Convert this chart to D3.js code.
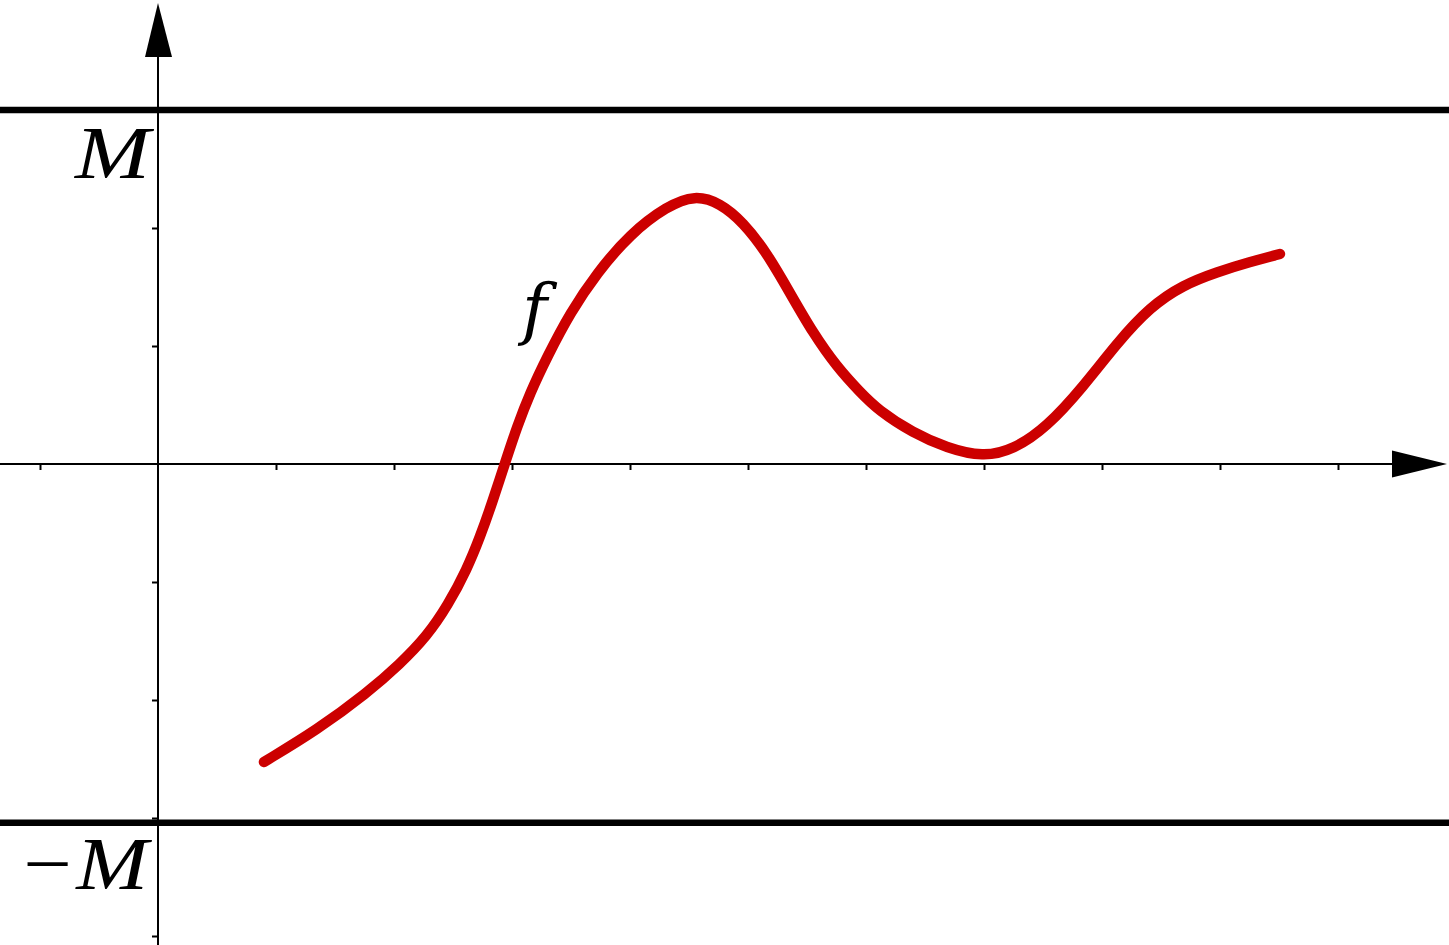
<!DOCTYPE html>
<html>
<head>
<meta charset="utf-8">
<script src="https://cdn.jsdelivr.net/npm/d3@7"></script>
<style>
  html, body { margin: 0; padding: 0; background: #fff; }
  svg { display: block; }
</style>
</head>
<body>
<svg id="chart" width="1449" height="945"></svg>
<script>
// ---- data ----
const fx = [0.898, 1.347, 1.771, 2.051, 2.280, 2.458, 2.619, 2.729, 2.831, 2.941, 3.042, 3.153, 3.297, 3.492, 3.720, 4.000, 4.314, 4.551, 4.763, 4.958, 5.161, 5.356, 5.551, 5.754, 5.949, 6.102, 6.398, 6.686, 6.992, 7.246, 7.534, 7.839, 8.127, 8.407, 8.686, 8.975, 9.254, 9.508];
const fy = [-2.525, -2.254, -1.941, -1.695, -1.458, -1.195, -0.890, -0.619, -0.331, 0.008, 0.314, 0.602, 0.907, 1.280, 1.619, 1.949, 2.186, 2.280, 2.212, 2.050, 1.788, 1.449, 1.110, 0.822, 0.610, 0.458, 0.263, 0.136, 0.059, 0.119, 0.314, 0.653, 1.025, 1.331, 1.517, 1.627, 1.712, 1.780];
const xTicks = [-1, 1, 2, 3, 4, 5, 6, 7, 8, 9, 10];
const yTicks = [-4, -3, -2, -1, 1, 2];
const boundUpper = 3.0;
const boundLower = -3.04;
const labelUpper = "M";
const labelLower = "\u2212M";
const curveLabel = "f";

// ---- layout ----
const W = 1449, H = 945;
const svg = d3.select("#chart");
const x = d3.scaleLinear().domain([0, 1]).range([158, 276]);
const y = d3.scaleLinear().domain([0, 1]).range([464, 346]);

// bound lines
svg.selectAll("line.bound").data([boundUpper, boundLower]).join("line")
  .attr("class", "bound")
  .attr("x1", 0).attr("x2", W)
  .attr("y1", d => y(d)).attr("y2", d => y(d))
  .attr("stroke", "#000").attr("stroke-width", 6.5);

// x axis ticks
const xAxis = d3.axisBottom(x).tickValues(xTicks).tickSize(6).tickFormat("");
const gx = svg.append("g").attr("transform", `translate(0,${y(0)})`).call(xAxis);
gx.select(".domain").remove();
gx.selectAll(".tick line").attr("stroke", "#000").attr("stroke-width", 2);

// y axis ticks
const yAxis = d3.axisLeft(y).tickValues(yTicks).tickSize(6).tickFormat("");
const gy = svg.append("g").attr("transform", `translate(${x(0)},0)`).call(yAxis);
gy.select(".domain").remove();
gy.selectAll(".tick line").attr("stroke", "#000").attr("stroke-width", 2);

// axis lines
svg.append("line").attr("x1", 0).attr("x2", 1393).attr("y1", y(0)).attr("y2", y(0))
  .attr("stroke", "#000").attr("stroke-width", 2);
svg.append("line").attr("x1", x(0)).attr("x2", x(0)).attr("y1", H).attr("y2", 56)
  .attr("stroke", "#000").attr("stroke-width", 2);

// arrowheads
const xa = x(0), ya = y(0);
svg.append("path")
  .attr("d", `M${xa},3 L${xa - 13},57 L${xa + 14},57 Z`)
  .attr("fill", "#000");
svg.append("path")
  .attr("d", `M1447,${ya} L1392,${ya - 13.5} L1392,${ya + 13.5} Z`)
  .attr("fill", "#000");

// curve
const pts = fx.map((v, i) => [v, fy[i]]);
const line = d3.line().x(d => x(d[0])).y(d => y(d[1])).curve(d3.curveBasis);
svg.append("path").datum(pts)
  .attr("d", line)
  .attr("fill", "none")
  .attr("stroke", "#cc0000")
  .attr("stroke-width", 10.5)
  .attr("stroke-linecap", "round")
  .attr("stroke-linejoin", "round");

// labels
const font = "'Liberation Serif', 'DejaVu Serif', serif";
svg.append("text").text(labelUpper)
  .attr("x", 75).attr("y", 178)
  .attr("textLength", 75).attr("lengthAdjust", "spacingAndGlyphs")
  .attr("font-family", font).attr("font-style", "italic").attr("font-size", 75);
svg.append("text").text(labelLower)
  .attr("x", 18).attr("y", 889)
  .attr("textLength", 130).attr("lengthAdjust", "spacingAndGlyphs")
  .attr("font-family", font).attr("font-style", "italic").attr("font-size", 75);
svg.append("text").text(curveLabel)
  .attr("x", 522).attr("y", 332)
  .attr("font-family", "'DejaVu Serif', 'Liberation Serif', serif").attr("font-style", "italic").attr("font-size", 68);
</script>
</body>
</html>
